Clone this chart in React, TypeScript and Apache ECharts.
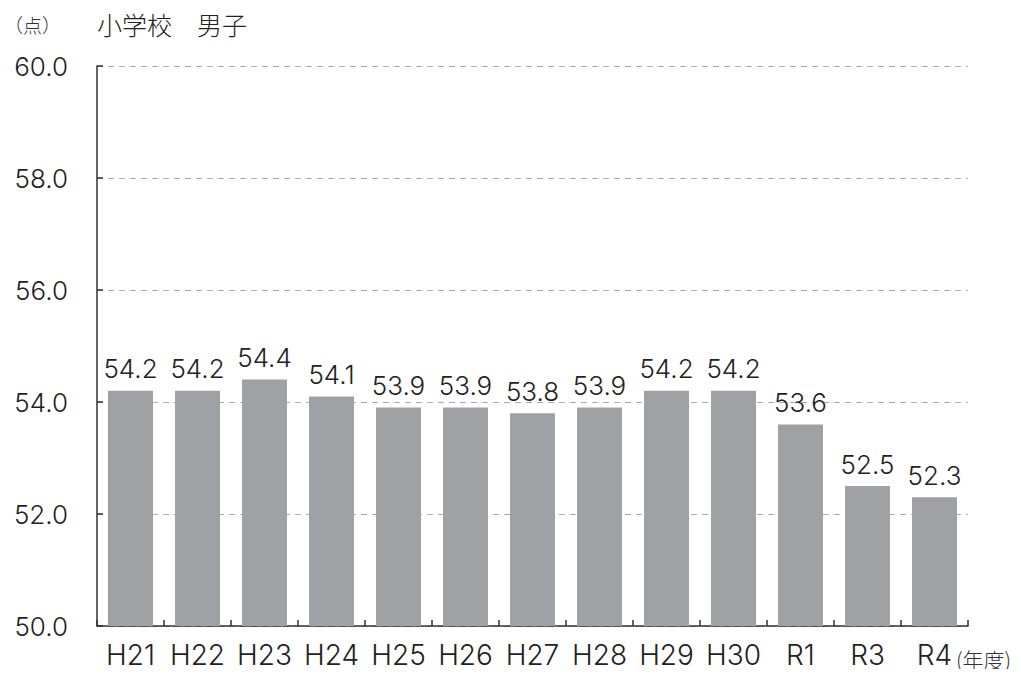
import React, { useEffect, useRef } from "react";
import * as echarts from "echarts";

const categories = ["H21", "H22", "H23", "H24", "H25", "H26", "H27", "H28", "H29", "H30", "R1", "R3", "R4"];
const values = [54.2, 54.2, 54.4, 54.1, 53.9, 53.9, 53.8, 53.9, 54.2, 54.2, 53.6, 52.5, 52.3];
const title = "小学校　男子";
const yUnit = "（点）";
const xUnit = "(年度)";

const CJK = "'Noto Sans CJK JP', sans-serif";
const NUM = "Inter, 'Noto Sans', sans-serif";

export default function App() {
  const ref = useRef<HTMLDivElement>(null);
  useEffect(() => {
    if (!ref.current) return;
    const chart = echarts.init(ref.current, undefined, { renderer: "svg" });
    chart.setOption({
      animation: false,
      textStyle: { fontFamily: NUM },
      grid: { left: 97, right: 53, top: 66, bottom: 51, containLabel: false },
      graphic: [
        { type: "text", left: 4, top: 15, style: { text: yUnit, font: `300 19px ${CJK}`, fill: "#333" } },
        { type: "text", left: 97, top: 11, style: { text: title, font: `300 25px ${CJK}`, fill: "#222" } },
        { type: "text", left: 956, top: 648, style: { text: xUnit, font: `300 21px ${CJK}`, fill: "#333" } },
      ],
      xAxis: {
        type: "category",
        data: categories,
        axisLine: { lineStyle: { color: "#333", width: 1.5 } },
        axisTick: { show: true, inside: true, length: 6, lineStyle: { color: "#333", width: 1.5 } },
        axisLabel: { interval: 0, fontSize: 28, fontWeight: 300, color: "#222", margin: 15, fontFamily: NUM },
      },
      yAxis: {
        type: "value",
        min: 50,
        max: 60,
        interval: 2,
        axisLine: { show: true, lineStyle: { color: "#333", width: 1.5 } },
        axisTick: { show: true, inside: true, length: 6, lineStyle: { color: "#333", width: 1.5 } },
        axisLabel: { fontSize: 26, fontWeight: 300, color: "#222", margin: 29, formatter: (v: number) => v.toFixed(1), fontFamily: NUM },
        splitLine: { show: true, lineStyle: { color: "#aaa", type: [6, 5], width: 1.2 } },
      },
      series: [
        {
          type: "bar",
          data: values,
          barWidth: 45,
          itemStyle: { color: "#a0a1a5" },
          label: {
            show: true,
            position: "top",
            distance: 9,
            fontSize: 26,
            fontWeight: 300,
            color: "#222",
            fontFamily: NUM,
            formatter: (p: any) => Number(p.value).toFixed(1),
          },
        },
      ],
    });
    return () => chart.dispose();
  }, []);
  return <div ref={ref} style={{ width: 1021, height: 677, margin: -8 }} />;
}
